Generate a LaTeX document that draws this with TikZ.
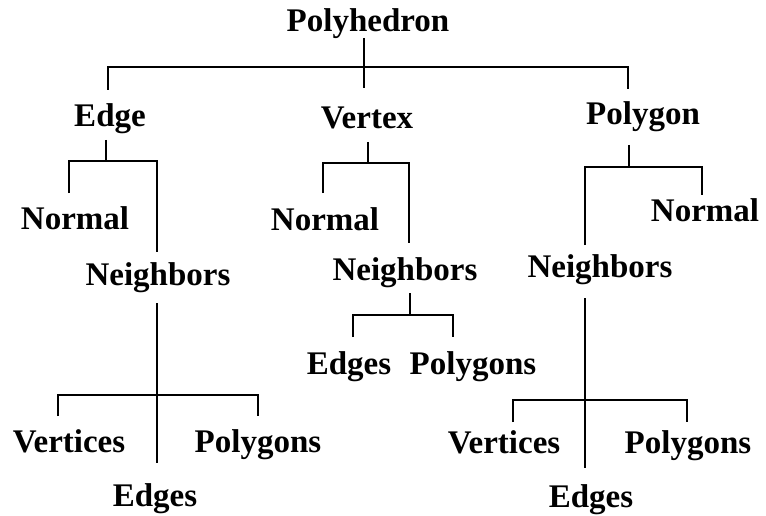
\documentclass[tikz,border=0pt]{standalone}
\usepackage{fontspec}
\setmainfont{Liberation Serif}
\begin{document}
\begin{tikzpicture}[x=1pt,y=-1pt,
  lbl/.style={font=\fontsize{33}{36}\selectfont\bfseries, inner sep=0pt, anchor=base},
  ln/.style={line width=1.3pt}]
\useasboundingbox (0,0) rectangle (766,516);
% nodes
\node[lbl] (poly)    at (368,32)  {Polyhedron};
\node[lbl] (edge)    at (110,127) {Edge};
\node[lbl] (vertex)  at (367,129) {Vertex};
\node[lbl] (polygon) at (643,125) {Polygon};
\node[lbl] (enorm)   at (75,229)  {Normal};
\node[lbl] (enbr)    at (158,285) {Neighbors};
\node[lbl] (vnorm)   at (325,230) {Normal};
\node[lbl] (vnbr)    at (405,280) {Neighbors};
\node[lbl] (pnorm)   at (705,222) {Normal};
\node[lbl] (pnbr)    at (600,277) {Neighbors};
\node[lbl] (eV)      at (69,452)  {Vertices};
\node[lbl] (eP)      at (258,452) {Polygons};
\node[lbl] (eE)      at (155,506) {Edges};
\node[lbl] (vE)      at (349,374) {Edges};
\node[lbl] (vP)      at (473,374) {Polygons};
\node[lbl] (pV)      at (504,453) {Vertices};
\node[lbl] (pP)      at (688,453) {Polygons};
\node[lbl] (pE)      at (591,507) {Edges};
% junction coordinates
\coordinate (t0) at (364,38);  \coordinate (t1) at (364,88);
\coordinate (tl) at (108,90);  \coordinate (tr) at (628,67); \coordinate (trb) at (628,89);
\coordinate (e0) at (106,140); \coordinate (e1) at (106,161);
\coordinate (el) at (69,193);  \coordinate (er) at (157,161); \coordinate (erb) at (157,252);
\coordinate (n0) at (157,303); \coordinate (n1) at (157,463);
\coordinate (nl) at (58,416);  \coordinate (nr) at (258,395); \coordinate (nrb) at (258,416);
\coordinate (v0) at (368,142); \coordinate (v1) at (368,163);
\coordinate (vl) at (323,193); \coordinate (vr) at (409,163); \coordinate (vrb) at (409,243);
\coordinate (m0) at (410,293); \coordinate (m1) at (410,315);
\coordinate (ml) at (353,337); \coordinate (mr) at (453,315); \coordinate (mrb) at (453,337);
\coordinate (p0) at (629,145); \coordinate (p1) at (629,167);
\coordinate (pl) at (585,245); \coordinate (pr) at (702,167); \coordinate (prb) at (702,195);
\coordinate (q0) at (585,298); \coordinate (q1) at (585,468);
\coordinate (ql) at (513,422); \coordinate (qr) at (687,400); \coordinate (qrb) at (687,422);
% connectors
\draw[ln] (t0) -- (t1);
\draw[ln] (tl) |- (tr) -- (trb);
\draw[ln] (e0) -- (e1);
\draw[ln] (el) |- (er) -- (erb);
\draw[ln] (n0) -- (n1);
\draw[ln] (nl) |- (nr) -- (nrb);
\draw[ln] (v0) -- (v1);
\draw[ln] (vl) |- (vr) -- (vrb);
\draw[ln] (m0) -- (m1);
\draw[ln] (ml) |- (mr) -- (mrb);
\draw[ln] (p0) -- (p1);
\draw[ln] (pl) |- (pr) -- (prb);
\draw[ln] (q0) -- (q1);
\draw[ln] (ql) |- (qr) -- (qrb);
\end{tikzpicture}
\end{document}
